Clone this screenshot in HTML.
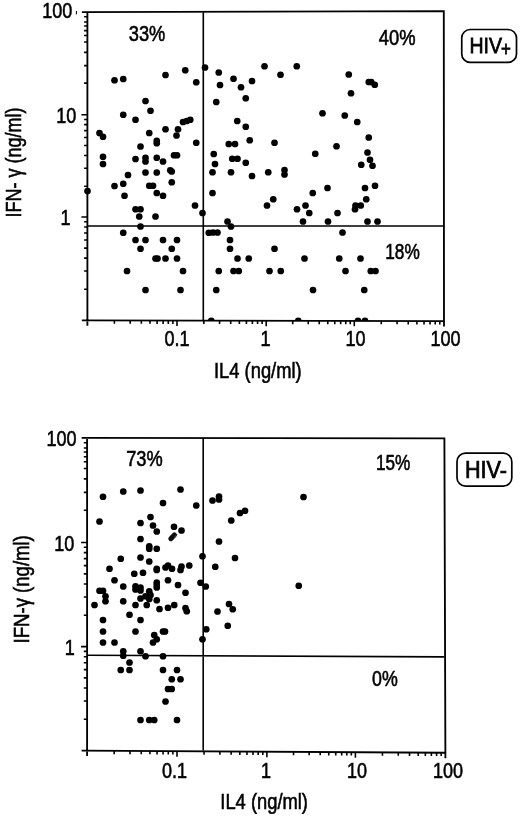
<!DOCTYPE html>
<html lang="en"><head><meta charset="utf-8"><title>IFN-γ vs IL4 scatter plots</title>
<style>html,body{margin:0;padding:0;background:#fff}svg{display:block}text{font-family:'Liberation Sans', sans-serif;fill:#000;stroke:#000;stroke-width:0.6px}</style></head><body>
<svg width="520" height="816" viewBox="0 0 520 816">
<rect width="520" height="816" fill="#fff"/>
<defs><filter id="soft" x="0" y="0" width="520" height="816" filterUnits="userSpaceOnUse"><feGaussianBlur stdDeviation="0.45"/></filter><clipPath id="c1"><path d="M80 0H460V321.1L80 320.3z"/></clipPath><clipPath id="c2"><path d="M80 430H460V752.7L80 750.5z"/></clipPath></defs>
<g filter="url(#soft)">
<path d="M81.90 12.2L443.8 11.2L444.0 326.55M87.4 12.2V325.85M81.90 320.35L444.0 321.05" fill="none" stroke="#000" stroke-width="1.85"/>
<path d="M203.3 12.2V320.35M87.4 225.95L443.8 225.95" fill="none" stroke="#000" stroke-width="1.6"/>
<path d="M84.10 16.80H87.4M84.10 22.05H87.4M84.10 25.96H87.4M84.10 30.58H87.4M84.10 35.50H87.4M84.10 42.07H87.4M84.10 52.34H87.4M84.10 65.58H87.4M84.10 83.13H87.4M84.10 186.22H87.4M84.10 168.21H87.4M84.10 155.44H87.4M84.10 145.53H87.4M84.10 137.43H87.4M84.10 130.59H87.4M84.10 124.66H87.4M84.10 119.43H87.4M84.10 289.24H87.4M84.10 271.04H87.4M84.10 258.13H87.4M84.10 248.11H87.4M84.10 239.93H87.4M84.10 233.01H87.4M84.10 227.02H87.4M84.10 221.73H87.4M81.40 114.75H87.4M81.40 217.00H87.4M114.37 320.40v3.4M130.15 320.43v3.4M141.34 320.46v3.4M150.03 320.47v3.4M157.12 320.49v3.4M163.12 320.50v3.4M168.32 320.51v3.4M172.90 320.52v3.4M203.85 320.58v3.4M219.56 320.61v3.4M230.70 320.63v3.4M239.35 320.65v3.4M246.41 320.66v3.4M252.38 320.67v3.4M257.56 320.68v3.4M262.12 320.69v3.4M292.72 320.75v3.4M308.23 320.78v3.4M319.24 320.81v3.4M327.78 320.82v3.4M334.76 320.84v3.4M340.65 320.85v3.4M345.76 320.86v3.4M350.27 320.87v3.4M381.27 320.93v3.4M397.05 320.96v3.4M408.24 320.98v3.4M416.93 321.00v3.4M424.02 321.01v3.4M430.02 321.02v3.4M435.22 321.03v3.4M439.80 321.04v3.4M177.00 320.53v5.5M266.20 320.70v5.5M354.30 320.87v5.5" fill="none" stroke="#000" stroke-width="1.6"/>
<path d="M76.4 11v3.4" stroke="#000" stroke-width="1" fill="none"/>
<g clip-path="url(#c1)">
<circle cx="114.5" cy="80.25" r="3.35"/>
<circle cx="123.25" cy="79" r="3.35"/>
<circle cx="165.5" cy="75" r="3.35"/>
<circle cx="185.25" cy="70.25" r="3.35"/>
<circle cx="205" cy="67.5" r="3.35"/>
<circle cx="196.25" cy="82.25" r="3.35"/>
<circle cx="145.5" cy="101" r="3.35"/>
<circle cx="150.5" cy="110.75" r="3.35"/>
<circle cx="123.25" cy="114.75" r="3.35"/>
<circle cx="135.5" cy="119.75" r="3.35"/>
<circle cx="183" cy="122" r="3.35"/>
<circle cx="186.75" cy="121" r="3.35"/>
<circle cx="190.25" cy="119.75" r="3.35"/>
<circle cx="99.5" cy="133" r="3.35"/>
<circle cx="103" cy="136.75" r="3.35"/>
<circle cx="149.25" cy="133" r="3.35"/>
<circle cx="165.5" cy="129.25" r="3.35"/>
<circle cx="178" cy="129.25" r="3.35"/>
<circle cx="176.5" cy="135.5" r="3.35"/>
<circle cx="156.75" cy="140.75" r="3.35"/>
<circle cx="156.75" cy="143.25" r="3.35"/>
<circle cx="196.25" cy="142.75" r="3.35"/>
<circle cx="140.5" cy="146.5" r="3.35"/>
<circle cx="103" cy="156.75" r="3.35"/>
<circle cx="103" cy="164" r="3.35"/>
<circle cx="135.5" cy="159" r="3.35"/>
<circle cx="145.5" cy="157.75" r="3.35"/>
<circle cx="145.5" cy="161.5" r="3.35"/>
<circle cx="156.75" cy="157.75" r="3.35"/>
<circle cx="163" cy="161.5" r="3.35"/>
<circle cx="174" cy="155.25" r="3.35"/>
<circle cx="177" cy="155.25" r="3.35"/>
<circle cx="145.5" cy="172.5" r="3.35"/>
<circle cx="156.75" cy="172.5" r="3.35"/>
<circle cx="170.25" cy="170.25" r="3.35"/>
<circle cx="171.75" cy="171.5" r="3.35"/>
<circle cx="128" cy="175" r="3.35"/>
<circle cx="171.75" cy="182.25" r="3.35"/>
<circle cx="114.5" cy="186" r="3.35"/>
<circle cx="123.25" cy="183.75" r="3.35"/>
<circle cx="149.25" cy="185.75" r="3.35"/>
<circle cx="153" cy="185.75" r="3.35"/>
<circle cx="87.5" cy="191" r="3.35"/>
<circle cx="124.5" cy="195.75" r="3.35"/>
<circle cx="156.75" cy="193" r="3.35"/>
<circle cx="163" cy="195.75" r="3.35"/>
<circle cx="195" cy="205.5" r="3.35"/>
<circle cx="218.75" cy="72.5" r="3.35"/>
<circle cx="264.5" cy="66.25" r="3.35"/>
<circle cx="296.75" cy="66.25" r="3.35"/>
<circle cx="280.5" cy="74.75" r="3.35"/>
<circle cx="233.5" cy="78.75" r="3.35"/>
<circle cx="252" cy="81" r="3.35"/>
<circle cx="220" cy="85" r="3.35"/>
<circle cx="241" cy="87.25" r="3.35"/>
<circle cx="245.75" cy="98.25" r="3.35"/>
<circle cx="216.25" cy="102" r="3.35"/>
<circle cx="322.5" cy="113.25" r="3.35"/>
<circle cx="237.25" cy="121" r="3.35"/>
<circle cx="245.75" cy="126.75" r="3.35"/>
<circle cx="249.75" cy="140.25" r="3.35"/>
<circle cx="228.75" cy="144" r="3.35"/>
<circle cx="235" cy="144" r="3.35"/>
<circle cx="274.5" cy="142.75" r="3.35"/>
<circle cx="213.75" cy="154" r="3.35"/>
<circle cx="315.25" cy="153.75" r="3.35"/>
<circle cx="232.25" cy="158.75" r="3.35"/>
<circle cx="237.5" cy="158.75" r="3.35"/>
<circle cx="245.75" cy="162.75" r="3.35"/>
<circle cx="215" cy="164" r="3.35"/>
<circle cx="212.5" cy="172.25" r="3.35"/>
<circle cx="231" cy="172.25" r="3.35"/>
<circle cx="252" cy="176" r="3.35"/>
<circle cx="268.25" cy="172.25" r="3.35"/>
<circle cx="284.5" cy="170" r="3.35"/>
<circle cx="284.5" cy="174.5" r="3.35"/>
<circle cx="212.5" cy="193" r="3.35"/>
<circle cx="327.5" cy="188" r="3.35"/>
<circle cx="312.75" cy="193" r="3.35"/>
<circle cx="273.25" cy="199.25" r="3.35"/>
<circle cx="267" cy="205.5" r="3.35"/>
<circle cx="305.5" cy="205.5" r="3.35"/>
<circle cx="348.75" cy="74.5" r="3.35"/>
<circle cx="368.75" cy="82" r="3.35"/>
<circle cx="371.25" cy="82" r="3.35"/>
<circle cx="374.75" cy="84.75" r="3.35"/>
<circle cx="351" cy="93.25" r="3.35"/>
<circle cx="344.75" cy="115.5" r="3.35"/>
<circle cx="357.25" cy="122" r="3.35"/>
<circle cx="368.75" cy="137.5" r="3.35"/>
<circle cx="336.5" cy="146.25" r="3.35"/>
<circle cx="367.5" cy="152.5" r="3.35"/>
<circle cx="370" cy="159.75" r="3.35"/>
<circle cx="361.25" cy="164.75" r="3.35"/>
<circle cx="372.5" cy="165.75" r="3.35"/>
<circle cx="365" cy="188" r="3.35"/>
<circle cx="375" cy="185.75" r="3.35"/>
<circle cx="366.25" cy="199.25" r="3.35"/>
<circle cx="355.5" cy="205.5" r="3.35"/>
<circle cx="360.75" cy="205.5" r="3.35"/>
<circle cx="135.5" cy="209.25" r="3.35"/>
<circle cx="140.5" cy="209.25" r="3.35"/>
<circle cx="202.5" cy="213" r="3.35"/>
<circle cx="139.25" cy="216.5" r="3.35"/>
<circle cx="155.5" cy="216.5" r="3.35"/>
<circle cx="140.5" cy="226.5" r="3.35"/>
<circle cx="123.25" cy="232.75" r="3.35"/>
<circle cx="208.75" cy="232.75" r="3.35"/>
<circle cx="135.5" cy="240" r="3.35"/>
<circle cx="145.5" cy="240" r="3.35"/>
<circle cx="163" cy="240" r="3.35"/>
<circle cx="177" cy="240" r="3.35"/>
<circle cx="140.5" cy="248.75" r="3.35"/>
<circle cx="171.75" cy="248.75" r="3.35"/>
<circle cx="155.5" cy="258.5" r="3.35"/>
<circle cx="157.5" cy="258.5" r="3.35"/>
<circle cx="165.5" cy="258.5" r="3.35"/>
<circle cx="177" cy="258.5" r="3.35"/>
<circle cx="127" cy="271" r="3.35"/>
<circle cx="183" cy="271" r="3.35"/>
<circle cx="145.5" cy="290" r="3.35"/>
<circle cx="180.5" cy="290" r="3.35"/>
<circle cx="297" cy="209.25" r="3.35"/>
<circle cx="309.25" cy="213" r="3.35"/>
<circle cx="227.5" cy="221.5" r="3.35"/>
<circle cx="231" cy="226.5" r="3.35"/>
<circle cx="303" cy="221.5" r="3.35"/>
<circle cx="328" cy="221.5" r="3.35"/>
<circle cx="213" cy="232.5" r="3.35"/>
<circle cx="217.5" cy="232.5" r="3.35"/>
<circle cx="230" cy="240" r="3.35"/>
<circle cx="230" cy="248.75" r="3.35"/>
<circle cx="274.5" cy="248.75" r="3.35"/>
<circle cx="237.5" cy="258.5" r="3.35"/>
<circle cx="248.75" cy="258.5" r="3.35"/>
<circle cx="304.5" cy="258.5" r="3.35"/>
<circle cx="218.75" cy="271" r="3.35"/>
<circle cx="233.5" cy="271" r="3.35"/>
<circle cx="238.75" cy="271" r="3.35"/>
<circle cx="269.5" cy="271" r="3.35"/>
<circle cx="280.75" cy="271" r="3.35"/>
<circle cx="216.25" cy="290" r="3.35"/>
<circle cx="313" cy="290" r="3.35"/>
<circle cx="211.25" cy="320.8" r="3.35"/>
<circle cx="298.25" cy="320.8" r="3.35"/>
<circle cx="355" cy="209.25" r="3.35"/>
<circle cx="337.5" cy="213" r="3.35"/>
<circle cx="367.5" cy="221.5" r="3.35"/>
<circle cx="377.5" cy="221.5" r="3.35"/>
<circle cx="342.5" cy="232.5" r="3.35"/>
<circle cx="339.25" cy="258.5" r="3.35"/>
<circle cx="360.5" cy="258.5" r="3.35"/>
<circle cx="345.5" cy="271" r="3.35"/>
<circle cx="370.75" cy="271" r="3.35"/>
<circle cx="375.5" cy="271" r="3.35"/>
<circle cx="364.25" cy="290" r="3.35"/>
<circle cx="358" cy="320.8" r="3.35"/>
<circle cx="365" cy="320.8" r="3.35"/>
</g>
<path d="M81.60 437.9L444.4 438.4L445.4 758.20M87.1 437.9V756.10M81.60 750.6L445.4 752.7" fill="none" stroke="#000" stroke-width="1.85"/>
<path d="M203.2 437.9V750.6M87.1 655.2L444.4 656.9" fill="none" stroke="#000" stroke-width="1.6"/>
<path d="M83.80 442.69H87.1M83.80 448.04H87.1M83.80 452.02H87.1M83.80 456.73H87.1M83.80 461.75H87.1M83.80 468.44H87.1M83.80 478.90H87.1M83.80 492.40H87.1M83.80 510.28H87.1M83.80 615.26H87.1M83.80 596.93H87.1M83.80 583.93H87.1M83.80 573.84H87.1M83.80 565.59H87.1M83.80 558.63H87.1M83.80 552.59H87.1M83.80 547.26H87.1M83.80 719.29H87.1M83.80 700.98H87.1M83.80 687.99H87.1M83.80 677.91H87.1M83.80 669.67H87.1M83.80 662.71H87.1M83.80 656.68H87.1M83.80 651.36H87.1M81.10 542.50H87.1M81.10 646.60H87.1M114.16 750.76v3.4M129.99 750.85v3.4M141.23 750.92v3.4M149.94 750.97v3.4M157.06 751.01v3.4M163.07 751.05v3.4M168.29 751.08v3.4M172.89 751.10v3.4M204.06 751.29v3.4M219.89 751.38v3.4M231.13 751.45v3.4M239.84 751.50v3.4M246.96 751.54v3.4M252.97 751.57v3.4M258.19 751.61v3.4M262.79 751.63v3.4M293.54 751.81v3.4M309.13 751.90v3.4M320.18 751.97v3.4M328.76 752.02v3.4M335.77 752.06v3.4M341.69 752.10v3.4M346.82 752.13v3.4M351.35 752.15v3.4M382.46 752.34v3.4M398.29 752.43v3.4M409.53 752.50v3.4M418.24 752.55v3.4M425.36 752.59v3.4M431.37 752.62v3.4M436.59 752.65v3.4M441.19 752.68v3.4M177.00 751.13v5.5M266.90 751.66v5.5M355.40 752.18v5.5" fill="none" stroke="#000" stroke-width="1.6"/>
<g clip-path="url(#c2)">
<circle cx="103" cy="496.75" r="3.35"/>
<circle cx="123.25" cy="491.5" r="3.35"/>
<circle cx="140.5" cy="490.5" r="3.35"/>
<circle cx="180.5" cy="489.5" r="3.35"/>
<circle cx="163" cy="503" r="3.35"/>
<circle cx="196.25" cy="505.5" r="3.35"/>
<circle cx="99.5" cy="521.5" r="3.35"/>
<circle cx="150.5" cy="517" r="3.35"/>
<circle cx="140.5" cy="523" r="3.35"/>
<circle cx="153" cy="525.5" r="3.35"/>
<circle cx="156.75" cy="531.5" r="3.35"/>
<circle cx="174" cy="526.75" r="3.35"/>
<circle cx="181.5" cy="530.5" r="3.35"/>
<circle cx="140.5" cy="539" r="3.35"/>
<circle cx="149.25" cy="546.25" r="3.35"/>
<circle cx="149.25" cy="548.75" r="3.35"/>
<circle cx="156.75" cy="548.75" r="3.35"/>
<circle cx="202.5" cy="556.25" r="3.35"/>
<circle cx="120.75" cy="558.75" r="3.35"/>
<circle cx="140.5" cy="557.5" r="3.35"/>
<circle cx="149.25" cy="561.5" r="3.35"/>
<circle cx="109.5" cy="568.75" r="3.35"/>
<circle cx="156.75" cy="568.75" r="3.35"/>
<circle cx="156.75" cy="570" r="3.35"/>
<circle cx="165.5" cy="567.5" r="3.35"/>
<circle cx="168" cy="565.5" r="3.35"/>
<circle cx="172" cy="568.75" r="3.35"/>
<circle cx="181.5" cy="566.5" r="3.35"/>
<circle cx="180.5" cy="570" r="3.35"/>
<circle cx="189.25" cy="565.5" r="3.35"/>
<circle cx="134.25" cy="573.75" r="3.35"/>
<circle cx="143" cy="572.75" r="3.35"/>
<circle cx="114.5" cy="580.25" r="3.35"/>
<circle cx="168" cy="580.25" r="3.35"/>
<circle cx="156.75" cy="582.5" r="3.35"/>
<circle cx="156.75" cy="585" r="3.35"/>
<circle cx="156.75" cy="587.5" r="3.35"/>
<circle cx="178" cy="585" r="3.35"/>
<circle cx="200.5" cy="582.75" r="3.35"/>
<circle cx="205.75" cy="586.5" r="3.35"/>
<circle cx="123.25" cy="586.5" r="3.35"/>
<circle cx="135.5" cy="586.25" r="3.35"/>
<circle cx="135.5" cy="589.5" r="3.35"/>
<circle cx="140.5" cy="587.5" r="3.35"/>
<circle cx="140.5" cy="590.5" r="3.35"/>
<circle cx="99.5" cy="590.75" r="3.35"/>
<circle cx="103" cy="590.75" r="3.35"/>
<circle cx="105.5" cy="596.25" r="3.35"/>
<circle cx="105.5" cy="601.25" r="3.35"/>
<circle cx="149.25" cy="591.25" r="3.35"/>
<circle cx="150.5" cy="595" r="3.35"/>
<circle cx="145.5" cy="596.25" r="3.35"/>
<circle cx="140.5" cy="598.5" r="3.35"/>
<circle cx="149.25" cy="599" r="3.35"/>
<circle cx="185.5" cy="592.75" r="3.35"/>
<circle cx="156.75" cy="600.25" r="3.35"/>
<circle cx="123.25" cy="601.25" r="3.35"/>
<circle cx="94.5" cy="605" r="3.35"/>
<circle cx="135.5" cy="605" r="3.35"/>
<circle cx="146.75" cy="605" r="3.35"/>
<circle cx="174.25" cy="605" r="3.35"/>
<circle cx="168" cy="607.75" r="3.35"/>
<circle cx="159.5" cy="609" r="3.35"/>
<circle cx="185.5" cy="608" r="3.35"/>
<circle cx="186.75" cy="611.25" r="3.35"/>
<circle cx="129.5" cy="614.75" r="3.35"/>
<circle cx="103" cy="620" r="3.35"/>
<circle cx="140.5" cy="620" r="3.35"/>
<circle cx="103" cy="631.5" r="3.35"/>
<circle cx="135.5" cy="631.5" r="3.35"/>
<circle cx="163" cy="631.5" r="3.35"/>
<circle cx="165" cy="631.5" r="3.35"/>
<circle cx="154.25" cy="635" r="3.35"/>
<circle cx="156.75" cy="639.25" r="3.35"/>
<circle cx="153" cy="642.5" r="3.35"/>
<circle cx="103" cy="642.5" r="3.35"/>
<circle cx="114.5" cy="642.5" r="3.35"/>
<circle cx="206.25" cy="629.25" r="3.35"/>
<circle cx="202.5" cy="639.25" r="3.35"/>
<circle cx="123.25" cy="651.25" r="3.35"/>
<circle cx="123.25" cy="655.75" r="3.35"/>
<circle cx="140.5" cy="651.25" r="3.35"/>
<circle cx="145.5" cy="656.25" r="3.35"/>
<circle cx="163" cy="656.25" r="3.35"/>
<circle cx="129.5" cy="662.5" r="3.35"/>
<circle cx="120.75" cy="670" r="3.35"/>
<circle cx="129.5" cy="670" r="3.35"/>
<circle cx="163" cy="670" r="3.35"/>
<circle cx="177" cy="670" r="3.35"/>
<circle cx="171.75" cy="679.25" r="3.35"/>
<circle cx="180.5" cy="679.25" r="3.35"/>
<circle cx="168" cy="689" r="3.35"/>
<circle cx="171.75" cy="689" r="3.35"/>
<circle cx="165.5" cy="701.5" r="3.35"/>
<circle cx="140.5" cy="720" r="3.35"/>
<circle cx="149.25" cy="720" r="3.35"/>
<circle cx="154.25" cy="720" r="3.35"/>
<circle cx="177" cy="720" r="3.35"/>
<circle cx="212.5" cy="500.5" r="3.35"/>
<circle cx="219" cy="496.5" r="3.35"/>
<circle cx="219" cy="499.5" r="3.35"/>
<circle cx="303.5" cy="497" r="3.35"/>
<circle cx="240" cy="513" r="3.35"/>
<circle cx="245" cy="510.75" r="3.35"/>
<circle cx="231.25" cy="520.5" r="3.35"/>
<circle cx="219" cy="541.5" r="3.35"/>
<circle cx="235" cy="558" r="3.35"/>
<circle cx="215.25" cy="566.75" r="3.35"/>
<circle cx="298.75" cy="585.75" r="3.35"/>
<circle cx="229" cy="604" r="3.35"/>
<circle cx="232.75" cy="609.25" r="3.35"/>
<circle cx="217.5" cy="611.5" r="3.35"/>
<circle cx="227.75" cy="625.75" r="3.35"/>
<path d="M170.8 538.7L174.4 535" stroke="#111" stroke-width="5" stroke-linecap="round" fill="none"/><path d="M174.5 537.5l2.3-3.2" stroke="#333" stroke-width="1.2" stroke-linecap="round" fill="none"/>
</g>
<text transform="translate(72.4 17.8) scale(0.82 1)" font-size="22" text-anchor="end">100</text>
<text transform="translate(76.4 122.8) scale(0.82 1)" font-size="22" text-anchor="end">10</text>
<text transform="translate(70.5 224.8) scale(0.82 1)" font-size="22" text-anchor="end">1</text>
<text transform="translate(177 346) scale(0.82 1)" font-size="22" text-anchor="middle">0.1</text>
<text transform="translate(265.6 346) scale(0.82 1)" font-size="22" text-anchor="middle">1</text>
<text transform="translate(355.5 346) scale(0.82 1)" font-size="22" text-anchor="middle">10</text>
<text transform="translate(445.6 346) scale(0.82 1)" font-size="22" text-anchor="middle">100</text>
<text transform="translate(214 378) scale(0.823 1)" font-size="22.3" text-anchor="start">IL4 (ng/ml)</text>
<text transform="translate(21 217.4) rotate(-90) scale(0.8 1)" font-size="22.5" text-anchor="start">IFN- γ (ng/ml)</text>
<text transform="translate(128.8 41.3) scale(0.83 1)" font-size="22" text-anchor="start">33%</text>
<text transform="translate(378.8 44.8) scale(0.835 1)" font-size="22" text-anchor="start">40%</text>
<text transform="translate(385.2 259) scale(0.785 1)" font-size="22" text-anchor="start">18%</text>
<rect x="461.75" y="29.5" width="54.75" height="32.9" rx="8.5" ry="8.5" fill="none" stroke="#000" stroke-width="1.7"/>
<text transform="translate(469.5 53.1) scale(0.87 1)" font-size="22.4" style="stroke-width:0.75px">HIV<tspan font-size="19.5" dy="2.6" dx="-1">+</tspan></text>
<text transform="translate(76.5 445.6) scale(0.82 1)" font-size="22" text-anchor="end">100</text>
<text transform="translate(74.4 550.8) scale(0.82 1)" font-size="22" text-anchor="end">10</text>
<text transform="translate(74.8 655.3) scale(0.82 1)" font-size="22" text-anchor="end">1</text>
<text transform="translate(174.5 777.5) scale(0.82 1)" font-size="22" text-anchor="middle">0.1</text>
<text transform="translate(266 777.5) scale(0.82 1)" font-size="22" text-anchor="middle">1</text>
<text transform="translate(357 777.5) scale(0.82 1)" font-size="22" text-anchor="middle">10</text>
<text transform="translate(448 777.8) scale(0.82 1)" font-size="22" text-anchor="middle">100</text>
<text transform="translate(220.3 808.9) scale(0.823 1)" font-size="22.3" text-anchor="start">IL4 (ng/ml)</text>
<text transform="translate(28.8 643.4) rotate(-90) scale(0.825 1)" font-size="22.5" text-anchor="start">IFN-γ (ng/ml)</text>
<text transform="translate(126.2 466.2) scale(0.83 1)" font-size="22" text-anchor="start">73%</text>
<text transform="translate(376 470) scale(0.78 1)" font-size="22" text-anchor="start">15%</text>
<text transform="translate(372 686.2) scale(0.81 1)" font-size="22" text-anchor="start">0%</text>
<rect x="457" y="453.2" width="54.8" height="33" rx="8.5" ry="8.5" fill="none" stroke="#000" stroke-width="1.7"/>
<text transform="translate(464.9 478.1) scale(0.94 1)" font-size="23" text-anchor="start" style="stroke-width:0.75px">HIV-</text>
</g>
</svg></body></html>
